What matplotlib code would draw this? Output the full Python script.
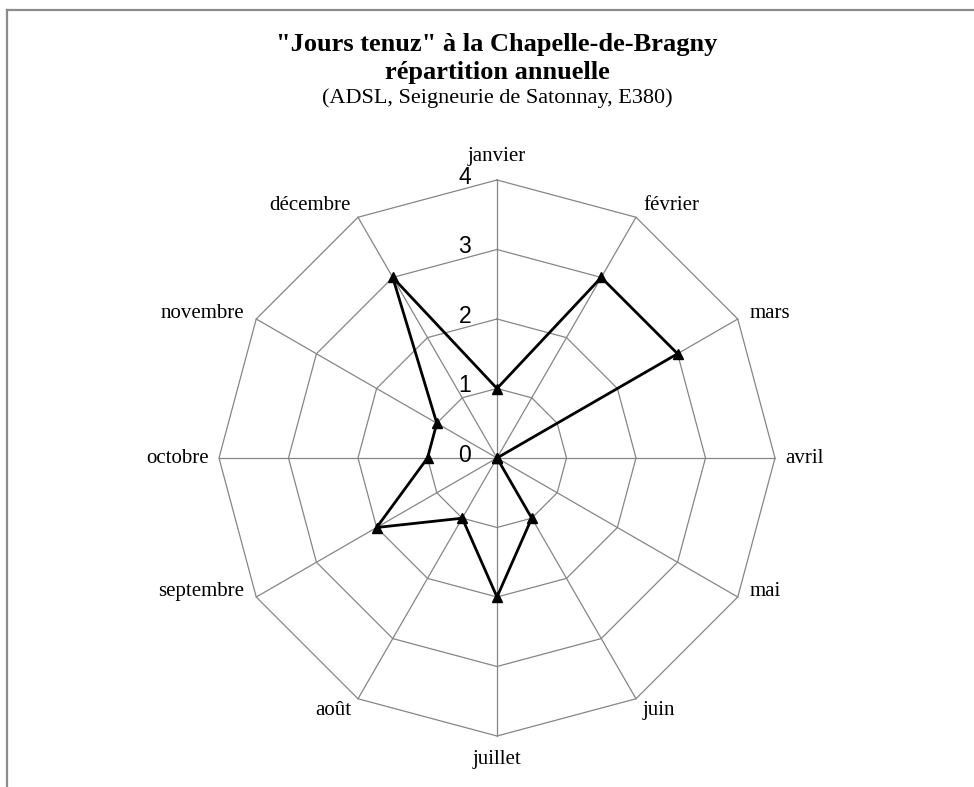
import numpy as np
import matplotlib
matplotlib.use("Agg")
import matplotlib.pyplot as plt
from matplotlib.lines import Line2D

months = ["janvier", "février", "mars", "avril", "mai", "juin",
          "juillet", "août", "septembre", "octobre", "novembre", "décembre"]
values = [1, 3, 3, 0, 0, 1, 2, 1, 2, 1, 1, 3]
rticks = [0, 1, 2, 3, 4]
title1 = "\"Jours tenuz\" à la Chapelle-de-Bragny"
title2 = "répartition annuelle"
subtitle = "(ADSL, Seigneurie de Satonnay, E380)"

W, H = 974, 787
fig = plt.figure(figsize=(W / 100, H / 100), dpi=100)
fig.patch.set_facecolor("white")

# frame lines (top and left)
fig.add_artist(Line2D([7 / W, 1.0], [1 - 10 / H, 1 - 10 / H], color="#8c8c8c", lw=1.6))
fig.add_artist(Line2D([7 / W, 7 / W], [0.0, 1 - 10 / H], color="#8c8c8c", lw=1.6))

cx, cy, R = 497, 458, 278
ax = fig.add_axes([(cx - R) / W, (H - cy - R) / H, 2 * R / W, 2 * R / H], projection="polar")
ax.set_theta_zero_location("N")
ax.set_theta_direction(-1)
ax.set_ylim(0, 4)
ax.axis("off")

n = len(months)
angles = np.arange(n) * 2 * np.pi / n
closed = np.concatenate([angles, angles[:1]])

grid_c = "#868686"
for r in rticks[1:]:
    ax.plot(closed, [r] * (n + 1), color=grid_c, lw=0.9, zorder=1, clip_on=False)
for a in angles:
    ax.plot([a, a], [0, rticks[-1]], color=grid_c, lw=0.9, zorder=1, clip_on=False)

vals = np.array(values + values[:1], dtype=float)
ax.plot(closed, vals, color="black", lw=2.0, zorder=3, clip_on=False)
ax.plot(angles, values, linestyle="none", marker="^", color="black", markersize=6.5, zorder=4, clip_on=False)

# radial labels
for r in rticks:
    ax.annotate(str(r), xy=(0, r), xytext=(-26, 3), textcoords="offset pixels",
                ha="right", va="center", fontsize=16.5, family="Liberation Sans",
                color="black", annotation_clip=False)

# month labels
for a, m in zip(angles, months):
    s, c = np.sin(a), np.cos(a)
    if s > 0.1:
        ha = "left"
    elif s < -0.1:
        ha = "right"
    else:
        ha = "center"
    if c > 0.6:
        va = "bottom"
    elif c < -0.6:
        va = "top"
    else:
        va = "center"
    if abs(s) < 0.1:
        dx, dy = 0, 14 * np.sign(c)
    elif abs(c) < 0.1:
        dx, dy = 10 * np.sign(s), 0
    elif abs(c) > 0.6:
        dx, dy = 7 * np.sign(s), 2 * np.sign(c)
    else:
        dx, dy = 12 * np.sign(s), 6
    ax.annotate(m, xy=(a, rticks[-1]), xytext=(dx, dy), textcoords="offset pixels",
                ha=ha, va=va, fontsize=15, family="Liberation Serif",
                color="black", annotation_clip=False)

fig.text(cx / W, 1 - 45 / H, title1, ha="center", va="center", fontsize=19,
         fontweight="bold", family="Liberation Serif")
fig.text(cx / W, 1 - 73 / H, title2, ha="center", va="center", fontsize=19,
         fontweight="bold", family="Liberation Serif")
fig.text(cx / W, 1 - 98 / H, subtitle, ha="center", va="center", fontsize=16,
         family="Liberation Serif")

fig.savefig("out.png", dpi=100, facecolor="white")
